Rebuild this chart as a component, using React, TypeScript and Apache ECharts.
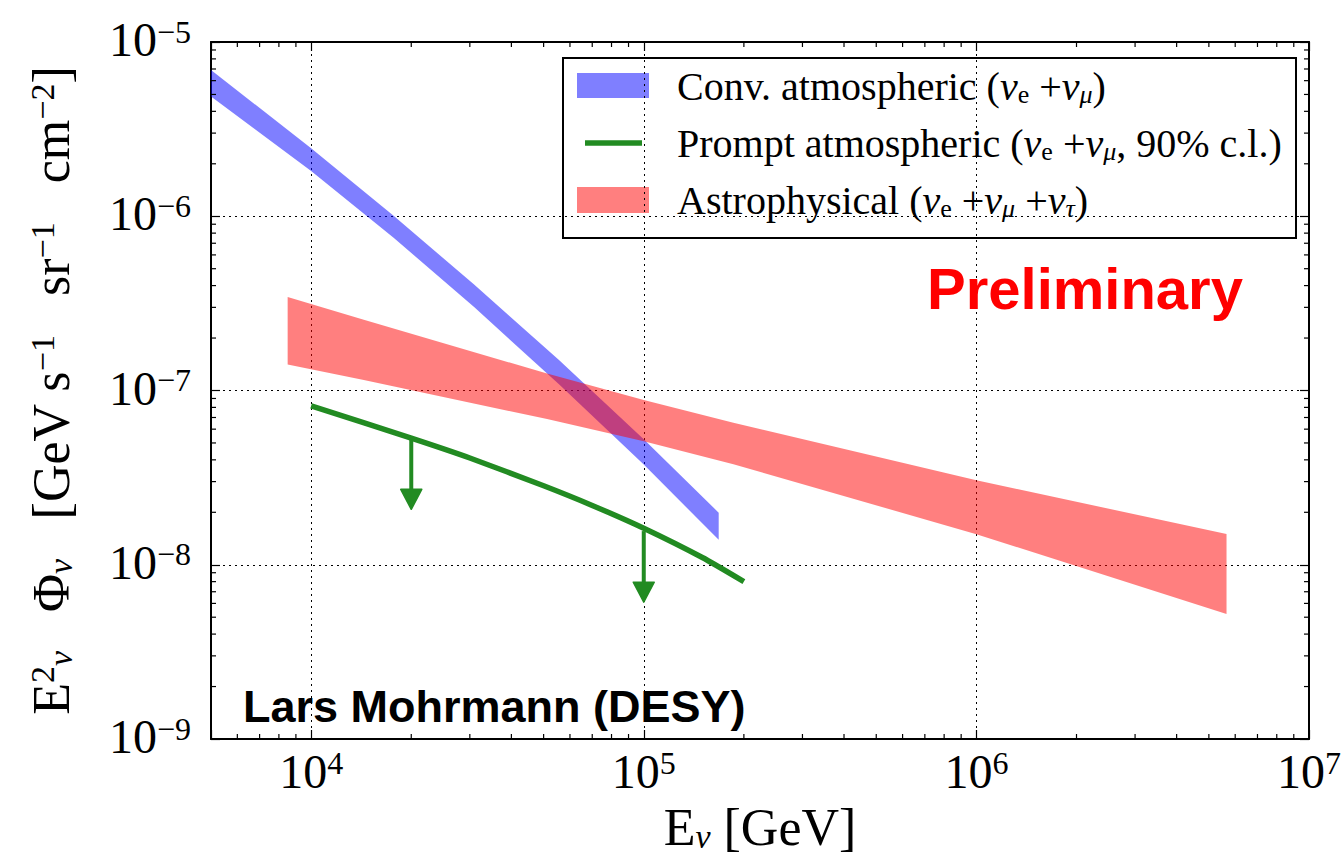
import React, { useEffect, useRef } from "react";
import * as echarts from "echarts";

// ---- data ----
const xRange = [5000, 1e7];
const yRange = [1e-9, 1e-5];

// Conventional atmospheric band (blue)
const convX = [5000, 1e4, 1.77e4, 3.09e4, 5.55e4, 1e5, 1.68e5];
const convHi = [6.9e-6, 2.46e-6, 1.005e-6, 4.06e-7, 1.5e-7, 5.25e-8, 1.99e-8];
const convLo = [4.86e-6, 1.82e-6, 7.53e-7, 3.01e-7, 1.09e-7, 3.76e-8, 1.39e-8];

// Astrophysical band (red, bow-tie shaped)
const astroX = [8.5e3, 1.44e4, 5.12e4, 1e5, 1.86e5, 1e6, 5.65e6];
const astroHi = [3.44e-7, 2.545e-7, 1.252e-7, 8.83e-8, 6.525e-8, 3.056e-8, 1.5e-8];
const astroLo = [1.41e-7, 1.148e-7, 6.855e-8, 5.118e-8, 3.777e-8, 1.497e-8, 5.22e-9];

// Prompt atmospheric upper limit (green)
const promptX = [1e4, 2e4, 3e4, 5e4, 7e4, 1e5, 1.5e5, 2e5];
const promptY = [8.17e-8, 5.33e-8, 4.1e-8, 2.84e-8, 2.19e-8, 1.62e-8, 1.1e-8, 8.0e-9];

// Upper-limit arrows
const arrowX = [2e4, 1e5];
const arrowFrom = [5.2e-8, 1.56e-8];
const arrowTo = [2.08e-8, 6.1e-9];

// Minor ticks (log decades)
const minorMult = [2, 3, 4, 5, 6, 7, 8, 9];
const xDecades = [1e3, 1e4, 1e5, 1e6];
const yDecades = [1e-9, 1e-8, 1e-7, 1e-6];
const minorX = xDecades.flatMap((d) => minorMult.map((m) => m * d)).filter((v) => v > xRange[0] && v < xRange[1]);
const minorY = yDecades.flatMap((d) => minorMult.map((m) => m * d));

const SERIF = "'Liberation Serif', 'DejaVu Serif', serif";
const SANS = "'Liberation Sans', Arial, sans-serif";

const legendRows = [
  "{t|Conv. atmospheric (}{g|ν}{sub|e}{t| +}{g|ν}{subi|μ}{t|)}",
  "{t|Prompt atmospheric (}{g|ν}{sub|e}{t| +}{g|ν}{subi|μ}{t|, 90% c.l.)}",
  "{t|Astrophysical (}{g|ν}{sub|e}{t| +}{g|ν}{subi|μ}{t| +}{g|ν}{subi|τ}{t|)}",
];

const tickRich = {
  b: { fontFamily: SERIF, fontSize: 48, lineHeight: 48, color: "#000" },
  s: { fontFamily: SERIF, fontSize: 32, lineHeight: 20, verticalAlign: "top", color: "#000" },
};

const nameRich = {
  b: { fontFamily: SERIF, fontSize: 52, lineHeight: 52, color: "#000" },
  sup: { fontFamily: SERIF, fontSize: 34, lineHeight: 22, verticalAlign: "top", color: "#000" },
  sub: { fontFamily: SERIF, fontSize: 34, fontStyle: "italic", lineHeight: 22, verticalAlign: "bottom", color: "#000" },
};

const legendRich = {
  t: { fontFamily: SERIF, fontSize: 40, lineHeight: 42, color: "#000" },
  g: { fontFamily: SERIF, fontSize: 40, lineHeight: 42, fontStyle: "italic", color: "#000" },
  sub: { fontFamily: SERIF, fontSize: 26, lineHeight: 20, verticalAlign: "bottom", color: "#000" },
  subi: { fontFamily: SERIF, fontSize: 26, lineHeight: 20, fontStyle: "italic", verticalAlign: "bottom", color: "#000" },
};

function powLabel(v: number) {
  const l = Math.log10(v);
  const e = Math.round(l);
  if (Math.abs(l - e) > 0.01) return "";
  return `{b|10}{s|${e < 0 ? "−" + -e : e}}`;
}

function bandRender(xs: number[], hi: number[], lo: number[], color: string) {
  return (params: any, api: any) => {
    const top = xs.map((x, i) => api.coord([x, hi[i]]));
    const bot = xs.map((x, i) => api.coord([x, lo[i]])).reverse();
    return {
      type: "polygon",
      shape: { points: top.concat(bot) },
      style: { fill: color },
    };
  };
}

export default function App() {
  const ref = useRef<HTMLDivElement>(null);
  useEffect(() => {
    if (!ref.current) return;
    const chart = echarts.init(ref.current, null, { renderer: "svg" });

    const axisCommon = {
      type: "log",
      logBase: 10,
      axisLine: { show: true, lineStyle: { color: "#000", width: 2 } },
      axisTick: { show: true, inside: true, length: 9, lineStyle: { color: "#000", width: 1.2 } },
      minorTick: { show: false },
    };

    const option: any = {
      animation: false,
      backgroundColor: "#fff",
      grid: { left: 211, top: 42, right: 31, bottom: 125, containLabel: false },
      xAxis: [
        {
          ...axisCommon,
          min: xRange[0],
          max: xRange[1],
          position: "bottom",
          splitLine: { show: true, lineStyle: { color: "#000", width: 1, type: [2, 4] } },
          axisLabel: { margin: 8, formatter: powLabel, rich: tickRich },
          name: "{b|E}{sub|ν}{b| [GeV]}",
          nameLocation: "middle",
          nameGap: 62,
          nameTextStyle: { rich: nameRich },
        },
        {
          ...axisCommon,
          min: xRange[0],
          max: xRange[1],
          position: "top",
          splitLine: { show: false },
          axisLabel: { show: false },
        },
      ],
      yAxis: [
        {
          ...axisCommon,
          min: yRange[0],
          max: yRange[1],
          position: "left",
          splitLine: { show: true, lineStyle: { color: "#000", width: 1, type: [2, 4] } },
          axisLabel: { margin: 20, formatter: powLabel, rich: tickRich, padding: [0, 0, 5, 0] },
          name:
            "{b|E}{sup|2}{sub|ν}{b|   Φ}{sub|ν}{b|   [GeV s}{sup|−1}{b|   sr}{sup|−1}{b|   cm}{sup|−2}{b|]}",
          nameLocation: "middle",
          nameRotate: 90,
          nameGap: 134,
          nameTextStyle: { rich: nameRich },
        },
        {
          ...axisCommon,
          min: yRange[0],
          max: yRange[1],
          position: "right",
          splitLine: { show: false },
          axisLabel: { show: false },
        },
      ],
      series: [
        {
          type: "custom",
          name: "Conv. atmospheric",
          renderItem: bandRender(convX, convHi, convLo, "rgba(0,0,255,0.5)"),
          data: [[convX[0], convHi[0]]],
          z: 2,
          silent: true,
        },
        {
          type: "custom",
          name: "Astrophysical",
          renderItem: bandRender(astroX, astroHi, astroLo, "rgba(255,0,0,0.5)"),
          data: [[astroX[0], astroHi[0]]],
          z: 3,
          silent: true,
        },
        {
          type: "line",
          name: "Prompt atmospheric",
          data: promptX.map((x, i) => [x, promptY[i]]),
          showSymbol: false,
          smooth: 0.2,
          lineStyle: { color: "#228B22", width: 5.5, cap: "butt" },
          z: 4,
          silent: true,
        },
        {
          type: "custom",
          name: "arrows",
          data: arrowX.map((x, i) => [x, arrowFrom[i], arrowTo[i]]),
          renderItem: (params: any, api: any) => {
            const p0 = api.coord([api.value(0), api.value(1)]);
            const p1 = api.coord([api.value(0), api.value(2)]);
            const hh = 20;
            const hw = 10.5;
            return {
              type: "group",
              children: [
                {
                  type: "line",
                  shape: { x1: p0[0], y1: p0[1], x2: p1[0], y2: p1[1] - hh + 2 },
                  style: { stroke: "#228B22", lineWidth: 4 },
                },
                {
                  type: "polygon",
                  shape: {
                    points: [
                      [p1[0] - hw, p1[1] - hh],
                      [p1[0] + hw, p1[1] - hh],
                      [p1[0], p1[1]],
                    ],
                  },
                  style: { fill: "#228B22", stroke: "#228B22", lineWidth: 1.5, lineJoin: "round" },
                },
              ],
            };
          },
          z: 5,
          silent: true,
        },
        {
          type: "custom",
          name: "minorX",
          data: minorX.map((v) => [v, yRange[0]]),
          renderItem: (params: any, api: any) => {
            const b = api.coord([api.value(0), yRange[0]]);
            const t = api.coord([api.value(0), yRange[1]]);
            return {
              type: "group",
              children: [
                { type: "line", shape: { x1: b[0], y1: b[1], x2: b[0], y2: b[1] - 5 }, style: { stroke: "#000", lineWidth: 1.2 } },
                { type: "line", shape: { x1: t[0], y1: t[1], x2: t[0], y2: t[1] + 5 }, style: { stroke: "#000", lineWidth: 1.2 } },
              ],
            };
          },
          z: 6,
          silent: true,
        },
        {
          type: "custom",
          name: "minorY",
          data: minorY.map((v) => [xRange[0], v]),
          renderItem: (params: any, api: any) => {
            const l = api.coord([xRange[0], api.value(1)]);
            const r = api.coord([xRange[1], api.value(1)]);
            return {
              type: "group",
              children: [
                { type: "line", shape: { x1: l[0], y1: l[1], x2: l[0] + 5, y2: l[1] }, style: { stroke: "#000", lineWidth: 1.2 } },
                { type: "line", shape: { x1: r[0], y1: r[1], x2: r[0] - 5, y2: r[1] }, style: { stroke: "#000", lineWidth: 1.2 } },
              ],
            };
          },
          z: 6,
          silent: true,
        },
      ],
      graphic: [
        {
          type: "group",
          z: 100,
          children: [
            { type: "rect", shape: { x: 563, y: 58, width: 733, height: 180 }, style: { fill: "#fff", stroke: "#000", lineWidth: 2 } },
            { type: "rect", shape: { x: 577, y: 73, width: 72, height: 25 }, style: { fill: "rgba(0,0,255,0.5)" } },
            { type: "line", shape: { x1: 585, y1: 143, x2: 642, y2: 143 }, style: { stroke: "#228B22", lineWidth: 5.5 } },
            { type: "rect", shape: { x: 577, y: 187, width: 72, height: 26 }, style: { fill: "rgba(255,0,0,0.5)" } },
            { type: "text", x: 677, y: 86, style: { text: legendRows[0], rich: legendRich, verticalAlign: "middle", align: "left" } },
            { type: "text", x: 677, y: 143, style: { text: legendRows[1], rich: legendRich, verticalAlign: "middle", align: "left" } },
            { type: "text", x: 677, y: 200, style: { text: legendRows[2], rich: legendRich, verticalAlign: "middle", align: "left" } },
          ],
        },
        {
          type: "text",
          x: 927,
          y: 288,
          z: 100,
          style: { text: "Preliminary", fill: "#ff0000", font: `bold 58px ${SANS}`, verticalAlign: "middle", align: "left" },
        },
        {
          type: "text",
          x: 243,
          y: 706,
          z: 100,
          style: { text: "Lars Mohrmann (DESY)", fill: "#000", font: `bold 45px ${SANS}`, verticalAlign: "middle", align: "left" },
        },
      ],
    };

    chart.setOption(option);
    return () => chart.dispose();
  }, []);

  return (
    <div
      ref={ref}
      style={{ position: "absolute", left: 0, top: 0, width: 1344, height: 864, background: "#fff" }}
    />
  );
}
